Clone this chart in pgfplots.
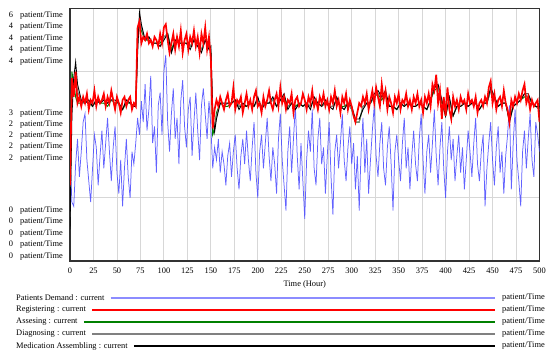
\documentclass[border=0pt]{standalone}
\usepackage{pgfplots}
\pgfplotsset{compat=1.18}
\usepackage{pgfplotstable}
\usepackage{fontspec}
\setmainfont{Liberation Serif}

\definecolor{vblue}{RGB}{70,70,255}
\definecolor{vlblue}{RGB}{140,140,255}
\definecolor{vgreen}{RGB}{0,128,0}
\definecolor{vgray}{RGB}{128,128,128}
\definecolor{vgrid}{RGB}{215,215,215}
\definecolor{vframe}{RGB}{50,50,50}

% Patients Demand (0..6 scale) and Registering (0..4 scale)
\pgfplotstableread{
t demand reg
0 2.6 1.2
2 1.4 2.9
4 1.3 2.6
6 2.3 3.0
8 2.9 2.5
10 2.0 2.6
12 2.6 2.45
14 3.3 2.6
16 3.5 2.5
18 2.4 2.65
20 1.9 2.4
22 1.4 2.55
24 2.2 2.5
26 3.0 2.7
28 2.7 2.45
30 1.8 2.6
32 2.5 2.5
34 3.1 2.55
36 2.2 2.65
38 2.8 2.45
40 3.4 2.6
42 2.6 2.5
44 1.9 2.7
46 2.7 2.55
48 3.2 2.4
50 2.1 2.6
52 1.6 2.5
54 2.4 2.35
56 1.3 2.55
58 2.2 2.6
60 2.9 2.45
62 2.0 2.55
64 1.5 2.6
66 2.6 2.4
68 2.3 2.5
70 2.8 2.45
72 3.4 3.7
74 3.0 3.8
76 3.8 3.45
78 3.3 3.55
80 4.2 3.5
82 3.1 3.6
84 3.6 3.45
86 4.4 3.5
88 2.8 3.4
90 3.2 3.55
92 2.1 3.5
94 3.7 3.4
96 4.0 3.6
98 3.0 3.45
100 4.5 3.7
102 4.9 3.75
104 3.3 3.5
106 2.6 3.3
108 3.5 3.45
110 4.1 3.6
112 2.9 3.35
114 3.4 3.55
116 2.3 3.4
118 3.8 3.65
120 4.3 3.3
122 3.2 3.5
124 2.7 3.6
126 3.6 3.35
128 3.9 3.55
130 2.5 3.45
132 3.3 3.65
134 4.0 3.4
136 3.1 3.55
138 2.4 3.3
140 3.7 3.6
142 4.1 3.45
144 3.5 3.7
146 2.9 3.35
148 3.8 3.55
150 3.2 3.2
152 2.2 2.1
154 2.7 2.4
156 2.4 2.55
158 2.9 2.45
160 2.1 2.6
162 2.6 2.5
164 2.3 2.4
166 1.8 2.55
168 2.5 2.65
170 2.8 2.45
172 2.0 2.5
174 2.6 2.75
176 3.0 2.4
178 2.2 2.55
180 1.7 2.5
182 2.5 2.6
184 2.9 2.35
186 2.3 2.5
188 3.1 2.65
190 2.4 2.45
192 1.9 2.55
194 2.7 2.4
196 3.3 2.6
198 2.1 2.7
200 1.5 2.45
202 2.6 2.5
204 3.0 2.35
206 2.2 2.6
208 2.8 2.45
210 3.4 2.55
212 2.5 2.7
214 1.9 2.5
216 2.7 2.4
218 2.3 2.55
220 1.6 2.65
222 2.9 2.45
224 3.5 2.75
226 2.4 2.5
228 1.8 2.6
230 1.2 2.4
232 2.6 2.55
234 3.2 2.5
236 2.1 2.65
238 2.9 2.35
240 3.7 2.55
242 2.5 2.6
244 1.7 2.45
246 2.8 2.5
248 1.9 2.65
250 1.0 2.55
252 2.4 2.4
254 3.1 2.6
256 2.6 2.5
258 3.6 2.7
260 2.2 2.45
262 1.8 2.55
264 2.9 2.4
266 3.4 2.6
268 2.3 2.5
270 2.7 2.65
272 1.6 2.45
274 2.5 2.55
276 3.3 2.4
278 2.0 2.6
280 1.1 2.5
282 2.6 2.7
284 3.0 2.45
286 2.2 2.55
288 2.8 2.35
290 3.5 2.6
292 2.4 2.5
294 1.9 2.65
296 2.7 2.4
298 3.2 2.55
300 2.3 2.45
302 2.8 2.3
304 1.7 2.2
306 2.5 2.35
308 1.2 2.5
310 2.6 2.45
312 3.4 2.6
314 2.1 2.5
316 2.9 2.65
318 1.6 2.4
320 2.4 2.55
322 3.1 2.7
324 3.7 2.5
326 2.5 2.75
328 2.0 2.6
330 2.8 2.45
332 3.3 2.8
334 2.2 2.55
336 1.8 2.7
338 2.7 2.4
340 3.2 2.6
342 2.3 2.5
344 1.2 2.35
346 2.6 2.6
348 3.0 2.5
350 2.4 2.65
352 1.9 2.4
354 2.8 2.55
356 3.4 2.5
358 2.2 2.65
360 2.7 2.45
362 1.7 2.55
364 2.5 2.4
366 3.1 2.6
368 2.3 2.5
370 1.9 2.65
372 2.9 2.45
374 3.5 2.55
376 2.4 2.35
378 1.6 2.6
380 2.6 2.5
382 3.0 2.65
384 2.1 2.45
386 2.8 2.8
388 3.6 2.7
390 2.5 2.95
392 1.8 2.5
394 2.7 2.7
396 3.3 2.25
398 2.2 2.6
400 1.5 2.3
402 2.6 2.75
404 3.2 2.4
406 2.4 2.25
408 2.9 2.6
410 1.9 2.45
412 2.5 2.55
414 3.0 2.4
416 2.1 2.6
418 2.7 2.5
420 1.7 2.55
422 2.4 2.4
424 3.1 2.65
426 2.6 2.5
428 2.0 2.55
430 2.8 2.45
432 3.4 2.6
434 2.3 2.35
436 1.9 2.5
438 2.6 2.55
440 3.0 2.45
442 1.3 2.6
444 2.2 2.5
446 2.8 2.75
448 3.3 2.85
450 2.4 2.5
452 1.8 2.65
454 2.7 2.4
456 3.2 2.55
458 2.1 2.6
460 2.6 2.45
462 1.6 2.7
464 2.5 2.5
466 3.0 2.4
468 3.7 2.2
470 1.7 2.55
472 2.8 2.45
474 3.6 2.6
476 2.4 2.5
478 1.9 2.65
480 1.3 2.55
482 2.6 2.7
484 3.1 2.8
486 2.2 2.5
488 2.9 2.6
490 3.5 2.4
492 2.4 2.55
494 2.0 2.45
496 3.3 2.5
498 3.0 2.55
500 2.6 2.2
}\tabA

% Assesing, Diagnosing, Medication Assembling (0..4 scale)
\pgfplotstableread{
t ass diag med
0 0.9 0.7 0.5
2 3.0 2.6 2.3
4 2.8 2.9 2.9
6 2.6 2.9 3.15
8 2.5 2.7 2.8
12 2.5 2.5 2.55
16 2.55 2.5 2.5
20 2.5 2.55 2.55
24 2.45 2.45 2.45
28 2.55 2.55 2.55
32 2.5 2.5 2.5
36 2.5 2.55 2.55
40 2.45 2.5 2.5
44 2.55 2.55 2.55
48 2.5 2.5 2.55
52 2.5 2.5 2.5
56 2.4 2.4 2.4
60 2.5 2.55 2.55
64 2.5 2.5 2.5
68 2.45 2.45 2.45
70 2.45 2.45 2.45
72 3.6 3.4 3.3
74 3.75 3.8 3.94
76 3.65 3.7 3.75
80 3.5 3.5 3.5
84 3.5 3.55 3.55
88 3.45 3.45 3.45
92 3.45 3.45 3.45
96 3.45 3.4 3.4
100 3.55 3.55 3.5
104 3.6 3.6 3.6
108 3.35 3.3 3.3
112 3.5 3.5 3.5
116 3.45 3.45 3.45
120 3.45 3.45 3.45
124 3.45 3.45 3.45
128 3.4 3.4 3.35
132 3.5 3.5 3.5
136 3.45 3.4 3.4
140 3.35 3.35 3.3
144 3.5 3.5 3.5
148 3.4 3.4 3.35
150 3.3 3.35 3.4
152 2.0 2.3 2.4
154 2.1 2.1 2.05
156 2.35 2.3 2.25
160 2.5 2.5 2.5
164 2.45 2.45 2.5
168 2.45 2.5 2.5
172 2.5 2.5 2.5
176 2.55 2.55 2.55
180 2.45 2.45 2.4
184 2.45 2.5 2.5
188 2.45 2.45 2.45
192 2.5 2.5 2.5
196 2.45 2.45 2.45
200 2.55 2.55 2.6
204 2.45 2.45 2.4
208 2.5 2.5 2.5
212 2.5 2.5 2.5
216 2.55 2.55 2.6
220 2.45 2.45 2.45
224 2.55 2.55 2.55
228 2.6 2.6 2.65
232 2.45 2.45 2.4
236 2.5 2.5 2.5
240 2.45 2.4 2.4
244 2.5 2.5 2.5
248 2.45 2.45 2.45
252 2.5 2.5 2.5
256 2.45 2.45 2.4
260 2.55 2.55 2.6
264 2.5 2.5 2.5
268 2.45 2.45 2.45
272 2.5 2.5 2.55
276 2.45 2.45 2.45
280 2.45 2.45 2.4
284 2.55 2.55 2.6
288 2.45 2.45 2.45
292 2.45 2.4 2.4
296 2.5 2.5 2.5
300 2.4 2.4 2.45
304 2.2 2.2 2.25
308 2.2 2.2 2.25
312 2.45 2.45 2.4
316 2.5 2.5 2.5
320 2.5 2.5 2.5
324 2.6 2.6 2.65
328 2.65 2.65 2.7
332 2.55 2.6 2.6
336 2.65 2.65 2.7
340 2.45 2.45 2.45
344 2.45 2.45 2.45
348 2.4 2.4 2.4
352 2.5 2.5 2.5
356 2.45 2.45 2.45
360 2.5 2.5 2.5
364 2.45 2.45 2.45
368 2.45 2.45 2.45
372 2.5 2.5 2.5
376 2.45 2.45 2.45
380 2.4 2.4 2.4
384 2.55 2.55 2.55
388 2.7 2.75 2.75
392 2.75 2.75 2.8
396 2.5 2.55 2.55
400 2.3 2.3 2.3
404 2.55 2.55 2.6
408 2.3 2.3 2.3
412 2.45 2.45 2.45
416 2.45 2.45 2.45
420 2.5 2.5 2.5
424 2.45 2.45 2.45
428 2.5 2.5 2.5
432 2.5 2.5 2.5
436 2.4 2.4 2.4
440 2.5 2.5 2.5
444 2.5 2.5 2.5
448 2.7 2.7 2.75
452 2.6 2.6 2.6
456 2.45 2.45 2.45
460 2.5 2.5 2.5
464 2.5 2.5 2.5
468 2.25 2.2 2.2
472 2.45 2.45 2.45
476 2.5 2.5 2.5
480 2.55 2.55 2.55
484 2.6 2.65 2.65
488 2.6 2.6 2.65
492 2.5 2.5 2.5
496 2.45 2.45 2.45
500 2.4 2.4 2.45
}\tabB

\pgfplotsset{
  vaxis/.style={
    at={(70pt,93pt)}, anchor=south west,
    scale only axis, width=469.5pt, height=252.5pt,
    xmin=0, xmax=500,
  }
}

\begin{document}
\fontsize{8.4}{10}\selectfont
\begin{tikzpicture}
\useasboundingbox (0,0) rectangle (552pt,354pt);

\begin{axis}[vaxis,
  ymin=0, ymax=6,
  xtick={0,25,...,500}, ytick={1.5,3,4.5}, yticklabels={},
  grid=major, major grid style={vgrid, line width=0.9pt},
  major tick length=0pt,
  axis line style={vframe, line width=1.1pt},
  /pgf/number format/assume math mode=true,
  xticklabel style={font=\fontsize{8.4}{10}\selectfont, anchor=center, yshift=-9.6pt},
  xlabel={Time (Hour)},
  xlabel style={font=\fontsize{8.4}{10}\selectfont, at={(axis description cs:0.5,0)}, anchor=center, yshift=-23pt},
]
\addplot[vblue, line width=0.75pt, opacity=0.85] table[x=t, y=demand]{\tabA};
\end{axis}

\begin{axis}[vaxis, ymin=0, ymax=4, hide axis]
\addplot[vgreen, line width=1pt] table[x=t, y=ass]{\tabB};
\addplot[vgray, line width=1pt] table[x=t, y=diag]{\tabB};
\addplot[black, line width=0.9pt] table[x=t, y=med]{\tabB};
\addplot[red, line width=1.7pt] table[x=t, y=reg]{\tabA};
\end{axis}

% stacked scale labels (Vensim style)
\foreach \yy/\vv in {338.3/6, 327/4, 315.7/4, 304/4, 292.3/4,
                     240.7/3, 229.3/2, 218/2, 207/2, 195/2,
                     143.3/0, 132.3/0, 120.7/0, 109/0, 97.3/0}
  \node[anchor=east, inner sep=0pt] at (63pt,\yy pt) {\makebox[6pt][r]{\vv}\hspace{7pt}patient/Time};

% legend
\node[anchor=west, inner sep=0pt] (l1) at (16pt,56pt) {Patients Demand : current};
\draw[vlblue, line width=1.1pt] ([xshift=6pt]l1.east) -- (495pt,56pt);
\node[anchor=west, inner sep=0pt] at (502pt,56pt) {patient/Time};

\node[anchor=west, inner sep=0pt] (l2) at (16pt,44pt) {Registering : current};
\draw[red, line width=1.5pt] ([xshift=6pt]l2.east) -- (495pt,44pt);
\node[anchor=west, inner sep=0pt] at (502pt,44pt) {patient/Time};

\node[anchor=west, inner sep=0pt] (l3) at (16pt,32pt) {Assesing : current};
\draw[vgreen, line width=1.1pt] ([xshift=6pt]l3.east) -- (495pt,32pt);
\node[anchor=west, inner sep=0pt] at (502pt,32pt) {patient/Time};

\node[anchor=west, inner sep=0pt] (l4) at (16pt,20pt) {Diagnosing : current};
\draw[vgray, line width=1.1pt] ([xshift=6pt]l4.east) -- (495pt,20pt);
\node[anchor=west, inner sep=0pt] at (502pt,20pt) {patient/Time};

\node[anchor=west, inner sep=0pt] (l5) at (16pt,8pt) {Medication Assembling : current};
\draw[black, line width=1.1pt] ([xshift=6pt]l5.east) -- (495pt,8pt);
\node[anchor=west, inner sep=0pt] at (502pt,8pt) {patient/Time};
\end{tikzpicture}
\end{document}
